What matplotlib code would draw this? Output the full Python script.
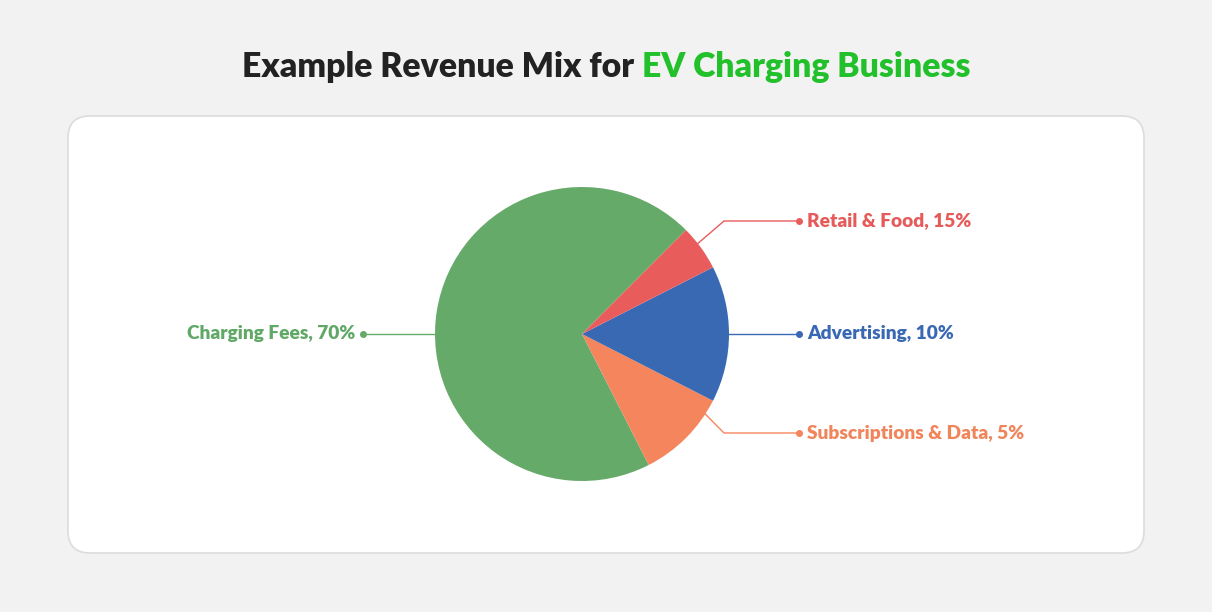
import matplotlib
matplotlib.use("Agg")
import matplotlib.pyplot as plt
from matplotlib.patches import FancyBboxPatch
import numpy as np

# slice sizes as drawn, and the label texts shown next to them
names = ["Charging Fees", "Subscriptions & Data", "Advertising", "Retail & Food"]
slice_sizes = [70, 10, 15, 5]
label_pcts = ["70%", "5%", "10%", "15%"]
colors = ["#66aa6a", "#f4855c", "#3a69b4", "#e95c5c"]
text_colors = ["#5fa866", "#f0845b", "#3a69b4", "#e65a5a"]

W, H = 1212, 612
fig = plt.figure(figsize=(W / 100, H / 100), dpi=100)
fig.patch.set_facecolor("#f2f2f2")
ax = fig.add_axes([0, 0, 1, 1])

# white card
card = FancyBboxPatch((68, H - 553), 1076, 437,
                      boxstyle="round,pad=0,rounding_size=22",
                      facecolor="white", edgecolor="#dcdcdc", lw=1.2)
ax.add_patch(card)

cx, cy, r = 582, H - 334, 147
ax.pie(slice_sizes, colors=colors, startangle=45, counterclock=True,
       center=(cx, cy), radius=r, wedgeprops=dict(linewidth=0),
       frame=True)
ax.set_xlim(0, W)
ax.set_ylim(0, H)
ax.set_aspect("equal")
ax.axis("off")

# leader lines: (anchor angle on rim, elbow x, label y, side)
lead = [
    (180, None, 334, "left"),
    (-33, 724, 433, "right"),
    (0, None, 334, "right"),
    (38, 724, 221, "right"),
]
for i, (ang, ex, ly, side) in enumerate(lead):
    a = np.deg2rad(ang)
    x0, y0 = cx + r * np.cos(a), cy + r * np.sin(a)
    yl = H - ly
    label = f"{names[i]}, {label_pcts[i]}"
    if side == "left":
        xs, ys = [x0, 363], [yl, yl]
        dot = 363
        ax.text(355, yl, label, color=text_colors[i], fontsize=13.8,
                fontweight="heavy", family="Lato", ha="right", va="center")
    else:
        if ex is None:
            xs, ys = [x0, 799], [yl, yl]
        else:
            xs, ys = [x0, ex, 799], [y0, yl, yl]
        dot = 799
        ax.text(807, yl, label, color=text_colors[i], fontsize=13.8,
                fontweight="heavy", family="Lato", ha="left", va="center")
    ax.plot(xs, ys, color=colors[i], lw=1)
    ax.plot([dot], [yl], "o", color=colors[i], ms=4)

# two-colour title, centred
t1 = ax.text(0, H - 67, "Example Revenue Mix for ", color="#222222",
             fontsize=24.3, fontweight="heavy", family="Lato", va="center")
t2 = ax.text(0, H - 67, "EV Charging Business", color="#22c02b",
             fontsize=24.3, fontweight="heavy", family="Lato", va="center")
fig.canvas.draw()
rend = fig.canvas.get_renderer()
w1 = t1.get_window_extent(rend).width
w2 = t2.get_window_extent(rend).width
x_start = 606 - (w1 + w2) / 2
t1.set_x(x_start)
t2.set_x(x_start + w1)

fig.savefig("out.png", dpi=100, facecolor=fig.get_facecolor())
